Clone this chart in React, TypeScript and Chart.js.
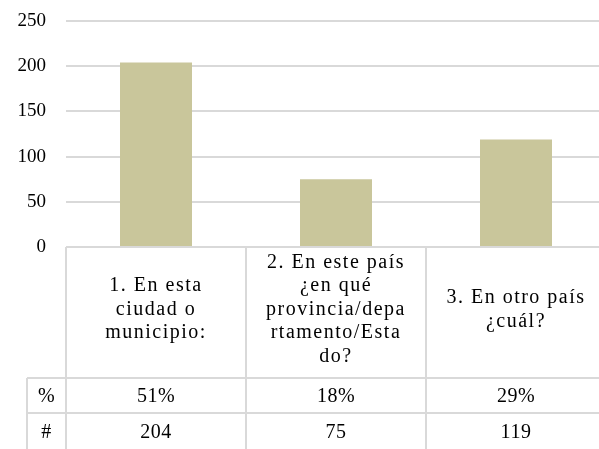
import React, { useEffect, useRef } from "react";
import { Chart, registerables } from "chart.js";

Chart.register(...registerables);

const categoryLines: string[][] = [
  ["1. En esta", "ciudad o", "municipio:"],
  ["2. En este país", "¿en qué", "provincia/depa", "rtamento/Esta", "do?"],
  ["3. En otro país", "¿cuál?"],
];
const counts: number[] = [204, 75, 119];
const percents: string[] = ["51%", "18%", "29%"];
const rowLabels: string[] = ["%", "#"];
const yTicks: number[] = [0, 50, 100, 150, 200, 250];

const FONT = "'Liberation Serif', 'Times New Roman', serif";
const LINE = "#d9d9d9";

const tablePlugin = {
  id: "dataTable",
  afterDraw(chart: any) {
    const ctx: CanvasRenderingContext2D = chart.ctx;
    const area = chart.chartArea;
    const xs = chart.scales.x;
    const n = categoryLines.length;
    const colW = (area.right - area.left) / n;
    const top = area.bottom;
    const headBottom = top + 131;
    const row1Bottom = headBottom + 35;
    const row2Bottom = row1Bottom + 38;
    const labelLeft = area.left - 39;
    const right = chart.width;

    ctx.save();
    ctx.strokeStyle = LINE;
    ctx.lineWidth = 2;
    ctx.beginPath();
    ctx.moveTo(area.left, top);
    ctx.lineTo(right, top);
    ctx.moveTo(labelLeft, headBottom);
    ctx.lineTo(right, headBottom);
    ctx.moveTo(labelLeft, row1Bottom);
    ctx.lineTo(right, row1Bottom);
    ctx.moveTo(labelLeft, row2Bottom);
    ctx.lineTo(right, row2Bottom);
    ctx.moveTo(labelLeft, headBottom);
    ctx.lineTo(labelLeft, row2Bottom);
    for (let i = 0; i < n; i++) {
      const x = xs.getPixelForValue(i) - colW / 2;
      ctx.moveTo(x, top);
      ctx.lineTo(x, row2Bottom);
    }
    ctx.stroke();

    ctx.fillStyle = "#000";
    ctx.textAlign = "center";
    ctx.textBaseline = "middle";
    ctx.font = `20px ${FONT}`;
    (ctx as any).letterSpacing = "1.5px";
    const lh = 23.5;
    const headMid = (top + headBottom) / 2 - 3;
    for (let i = 0; i < n; i++) {
      const cx = xs.getPixelForValue(i);
      const lines = categoryLines[i];
      const y0 = headMid - ((lines.length - 1) * lh) / 2;
      lines.forEach((t, j) => ctx.fillText(t, cx, y0 + j * lh));
    }
    (ctx as any).letterSpacing = "0.5px";
    ctx.font = `20px ${FONT}`;
    const r1 = (headBottom + row1Bottom) / 2 + 1;
    const r2 = (row1Bottom + row2Bottom) / 2 + 1;
    ctx.fillText(rowLabels[0], (labelLeft + area.left) / 2, r1);
    ctx.fillText(rowLabels[1], (labelLeft + area.left) / 2, r2);
    for (let i = 0; i < n; i++) {
      const cx = xs.getPixelForValue(i);
      ctx.fillText(percents[i], cx, r1);
      ctx.fillText(String(counts[i]), cx, r2);
    }
    ctx.restore();
  },
};

export default function App() {
  const ref = useRef<HTMLCanvasElement | null>(null);
  useEffect(() => {
    document.body.style.margin = "0";
    document.body.style.overflow = "hidden";
    const canvas = ref.current!;
    const chart = new Chart(canvas, {
      type: "bar",
      data: {
        labels: categoryLines.map((l) => l.join(" ")),
        datasets: [
          {
            data: counts,
            backgroundColor: "#c9c69b",
            borderWidth: 0,
            barPercentage: 0.4,
            categoryPercentage: 1,
          },
        ],
      },
      options: {
        responsive: false,
        animation: false,
        devicePixelRatio: 1,
        layout: { padding: { top: 21, bottom: 202, left: 0, right: 0 } },
        plugins: { legend: { display: false }, tooltip: { enabled: false } },
        scales: {
          x: { display: false },
          y: {
            min: yTicks[0],
            max: yTicks[yTicks.length - 1],
            afterBuildTicks: (scale: any) => {
              scale.ticks = yTicks.map((v) => ({ value: v }));
            },
            afterFit: (scale: any) => {
              scale.width = 66;
              scale.paddingTop = 0;
              scale.paddingBottom = 0;
            },
            border: { display: false },
            grid: { color: LINE, lineWidth: 2, drawTicks: false },
            ticks: {
              padding: 20,
              color: "#000",
              font: { family: FONT, size: 19 },
            },
          },
        },
      },
      plugins: [tablePlugin],
    });
    return () => chart.destroy();
  }, []);
  return (
    <div style={{ position: "fixed", left: 0, top: 0, width: 599, height: 449, overflow: "hidden" }}>
      <canvas ref={ref} width={606} height={449} style={{ display: "block" }} />
    </div>
  );
}
